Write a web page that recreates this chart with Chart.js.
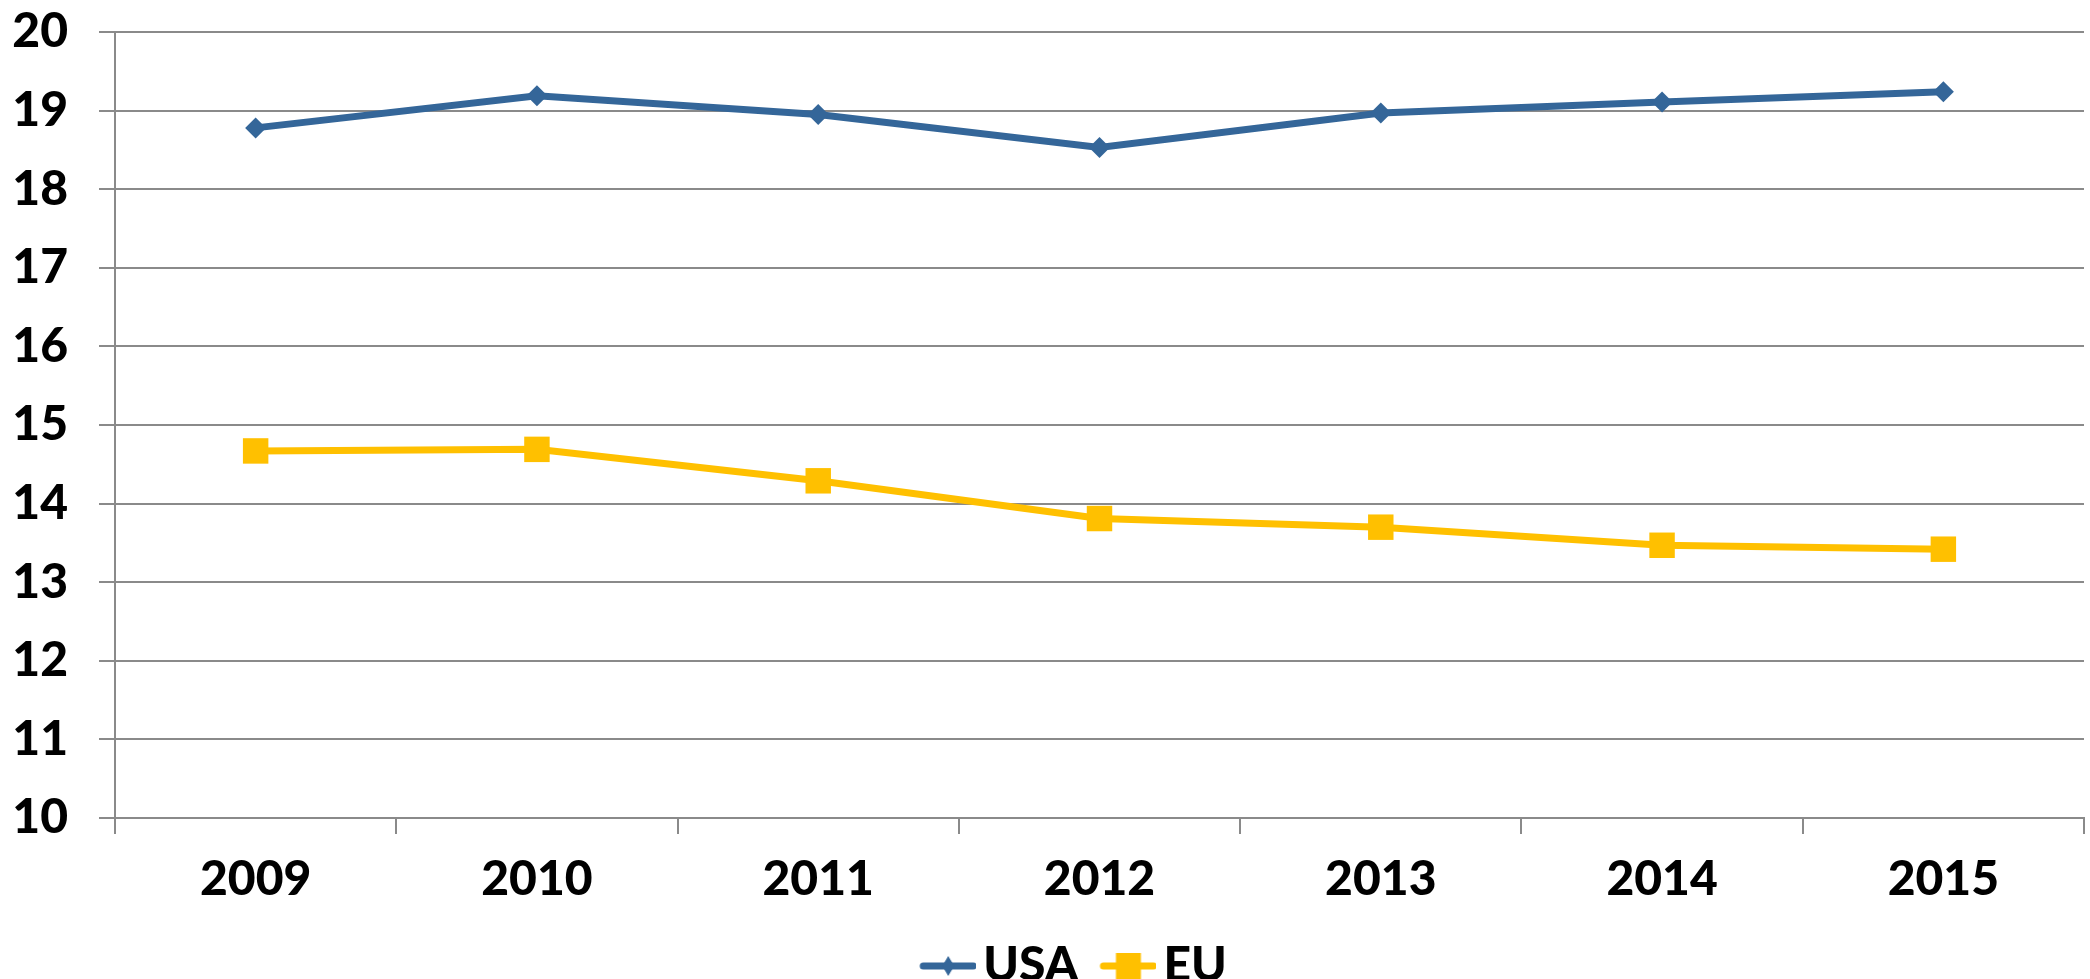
<!DOCTYPE html>
<html>
<head>
<meta charset="utf-8">
<script src="https://cdn.jsdelivr.net/npm/chart.js@4/dist/chart.umd.min.js"></script>
<style>
  html, body { margin: 0; padding: 0; background: #fff; overflow: hidden; }
  #wrap { width: 2090px; height: 979px; overflow: hidden; }
</style>
</head>
<body>
<div id="wrap"><canvas id="chart" width="2102" height="1000"></canvas></div>
<script>
// values
const years = ['2009', '2010', '2011', '2012', '2013', '2014', '2015'];
const usa = [18.78, 19.19, 18.95, 18.53, 18.97, 19.11, 19.24];
const eu = [14.67, 14.69, 14.29, 13.81, 13.70, 13.47, 13.42];
const yMin = 10;
const yMax = 20;
const yStep = 1;

const blue = '#346699';
const gold = '#FFC000';
const gridGray = '#8a8a8a';

// legend icon: short line with the marker on it (like Excel)
function legendIcon(color, marker) {
    const c = document.createElement('canvas');
    c.width = 74;
    c.height = 30;
    const g = c.getContext('2d');
    g.strokeStyle = color;
    g.lineWidth = 7;
    g.lineCap = 'round';
    g.beginPath();
    g.moveTo(21, 15);
    g.lineTo(71, 15);
    g.stroke();
    g.fillStyle = color;
    if (marker === 'diamond') {
        g.beginPath();
        g.moveTo(46, 5);
        g.lineTo(52, 15);
        g.lineTo(46, 25);
        g.lineTo(40, 15);
        g.closePath();
        g.fill();
    } else {
        g.fillRect(33.5, 2, 25, 26);
    }
    return c;
}
const icons = [legendIcon(blue, 'diamond'), legendIcon(gold, 'square')];

const font = { family: 'Lato', weight: 900, size: 48 };

// the original legend sits a little right of the centre (its chart was cropped)
const legendShift = {
    id: 'legendShift',
    afterLayout(chart) {
        chart.legend.left += 16;
        chart.legend.right += 16;
    }
};

new Chart(document.getElementById('chart'), {
    type: 'line',
    data: {
        labels: years,
        datasets: [{
            label: 'USA',
            data: usa,
            borderColor: blue,
            backgroundColor: blue,
            borderWidth: 7,
            pointStyle: 'rectRot',
            pointRadius: 10.5,
            pointBorderWidth: 0,
            tension: 0
        }, {
            label: 'EU',
            data: eu,
            borderColor: gold,
            backgroundColor: gold,
            borderWidth: 7,
            pointStyle: 'rect',
            pointRadius: 18,
            pointBorderWidth: 0,
            tension: 0
        }]
    },
    options: {
        responsive: false,
        animation: false,
        layout: { padding: { top: 0, left: 12, right: 0, bottom: 0 } },
        scales: {
            x: {
                offset: true,
                grid: {
                    offset: true,
                    drawOnChartArea: false,
                    drawTicks: true,
                    tickLength: 16,
                    color: gridGray,
                    lineWidth: 2
                },
                border: { color: gridGray, width: 2 },
                ticks: { color: '#000', font: font, padding: 17, maxRotation: 0 },
                afterFit: s => { s.height = 103; }
            },
            y: {
                min: yMin,
                max: yMax,
                grid: { color: gridGray, lineWidth: 2, tickLength: 16 },
                border: { color: gridGray, width: 2 },
                ticks: { stepSize: yStep, color: '#000', font: font, padding: 31 },
                afterFit: s => {
                    s.width = 103;
                    s.paddingTop = 32;
                    s.paddingBottom = 0;
                }
            }
        },
        plugins: {
            tooltip: { enabled: false },
            legend: {
                position: 'bottom',
                labels: {
                    color: '#000',
                    font: font,
                    usePointStyle: true,
                    pointStyleWidth: 40,
                    padding: 21,
                    generateLabels: chart =>
                        Chart.defaults.plugins.legend.labels.generateLabels(chart)
                            .map((item, i) => ({ ...item, pointStyle: icons[i] }))
                }
            }
        }
    },
    plugins: [legendShift]
});
</script>
</body>
</html>
